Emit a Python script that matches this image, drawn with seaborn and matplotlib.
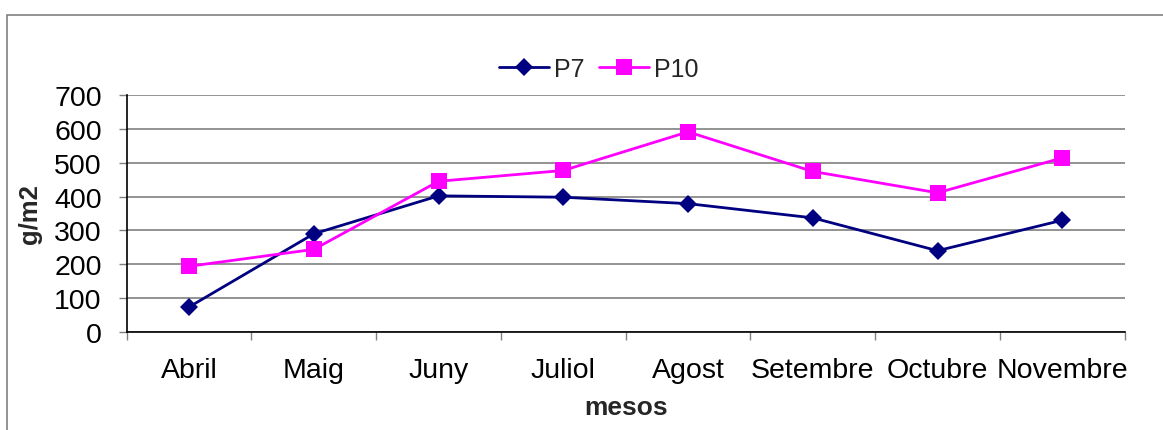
import matplotlib
matplotlib.use("Agg")
import matplotlib.pyplot as plt
from matplotlib.patches import Rectangle
from matplotlib.ticker import FixedLocator, MultipleLocator
import pandas as pd
import seaborn as sns

# Monthly biomass per plot (g/m2)
mesos = ["Abril", "Maig", "Juny", "Juliol", "Agost", "Setembre", "Octubre", "Novembre"]
p7 = [74, 290, 402, 398, 379, 337, 240, 330]
p10 = [194, 244, 445, 477, 591, 474, 411, 514]

df = pd.DataFrame({
    "pos": list(range(len(mesos))) * 2,
    "mes": mesos * 2,
    "valor": p7 + p10,
    "serie": ["P7"] * len(mesos) + ["P10"] * len(mesos),
})

sns.set_theme(style="white")
plt.rcParams["font.family"] = ["Liberation Sans", "DejaVu Sans"]

fig = plt.figure(figsize=(11.63, 4.31), dpi=100)
ax = fig.add_axes([0.109, 0.2274, 0.858, 0.55])

sns.lineplot(
    data=df, x="pos", y="valor", hue="serie", style="serie",
    palette={"P7": "#000080", "P10": "#FF00FF"},
    markers={"P7": "D", "P10": "s"}, dashes=False,
    markersize=10, markeredgewidth=0, linewidth=2,
    ax=ax, legend=True,
)
# square marker a bit larger than diamond
for line in ax.lines:
    if line.get_marker() == "s":
        line.set_markersize(11)
    else:
        line.set_markersize(9)

ax.set_xlim(-0.5, len(mesos) - 0.5)
ax.set_ylim(0, 700)
ax.yaxis.set_major_locator(MultipleLocator(100))
ax.set_xticks(range(len(mesos)))
ax.set_xticklabels(mesos)
ax.xaxis.set_minor_locator(FixedLocator([i - 0.5 for i in range(len(mesos) + 1)]))

ax.grid(axis="y", color="#808080", linewidth=1.2)
ax.grid(axis="x", visible=False)
ax.set_axisbelow(True)
for s in ["top", "right"]:
    ax.spines[s].set_visible(False)
for s in ["left", "bottom"]:
    ax.spines[s].set_color("black")
    ax.spines[s].set_linewidth(1.2)

ax.tick_params(axis="x", which="major", length=0, pad=18, labelsize=20.5, colors="black")
ax.tick_params(axis="x", which="minor", length=6, width=1, color="#808080", direction="out", bottom=True)
ax.tick_params(axis="y", which="major", length=6, width=1, color="#808080", direction="out",
               left=True, pad=12, labelsize=20.5, labelcolor="black")

ax.set_xlabel("mesos", fontsize=19, fontweight="bold")
ax.set_ylabel("g/m2", fontsize=18.5, fontweight="bold")
ax.xaxis.set_label_coords(0.5, -0.316)
ax.xaxis.label.set_va("center")
ax.yaxis.set_label_coords(-0.097, 0.5)
ax.yaxis.label.set_va("center")

handles, labels = ax.get_legend_handles_labels()
ax.get_legend().remove()
fig.legend(handles, labels, loc="center", bbox_to_anchor=(0.515, 0.838), ncol=2,
           frameon=False, fontsize=18, handlelength=2.0, handletextpad=0.2,
           columnspacing=0.6, borderpad=0)

# outer chart frame
fig.patches.append(Rectangle((7 / 1163, -0.1), 1.2, 0.963 + 0.1, transform=fig.transFigure,
                             fill=False, edgecolor="#808080", linewidth=1.2))

fig.savefig("out.png", dpi=100)
